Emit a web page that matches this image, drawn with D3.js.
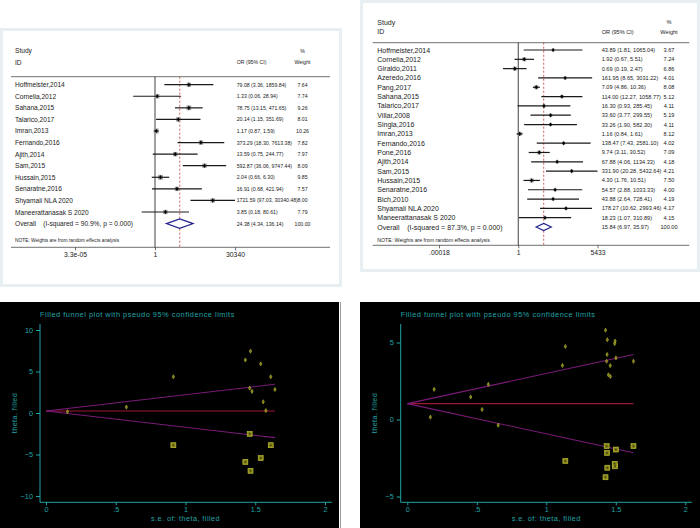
<!DOCTYPE html>
<html><head><meta charset="utf-8">
<script src="https://cdn.jsdelivr.net/npm/d3@7"></script>
<style>body{margin:0;background:#fff}svg{display:block;font-family:"Liberation Sans",Arial,sans-serif}</style>
</head><body><svg id="c" width="700" height="528"></svg>
<script>
// ---------- Forest plot A (left) ----------
const namesA = ["Hoffmeister,2014","Cornelia,2012","Sahana,2015","Talarico,2017","Imran,2013","Fernando,2016","Ajith,2014","Sam,2015","Hussain,2015","Senaratne,2016","Shyamali NLA 2020","Maneerattanasak S 2020"];
const orA = [79.08,1.33,78.75,20.14,1.17,373.29,13.59,592.87,2.04,16.91,1721.59,3.85];
const loA = [3.36,0.06,13.15,1.15,0.87,18.30,0.75,36.06,0.66,0.68,97.03,0.18];
const hiA = [1859.84,28.94,471.65,351.69,1.59,7613.38,244.77,9747.44,6.30,421.94,30340.48,80.61];
const wtA = [7.64,7.74,9.26,8.01,10.26,7.82,7.97,8.09,9.85,7.57,8.00,7.79];
const overallA = [24.38,4.34,136.14];
const overallLabelA = "Overall    (I-squared = 90.9%, p = 0.000)";
const tickValsA = [3.2959e-05, 1, 30340.48];
const tickLabelsA = ["3.3e-05","1","30340"];

// ---------- Forest plot B (right) ----------
const namesB = ["Hoffmeister,2014","Cornelia,2012","Giraldo,2011","Azeredo,2016","Pang,2017","Sahana,2015","Talarico,2017","Villar,2008","Singla,2016","Imran,2013","Fernando,2016","Pone,2016","Ajith,2014","Sam,2015","Hussain,2015","Senaratne,2016","Bich,2010","Shyamali NLA 2020","Maneerattanasak S 2020"];
const orB = [43.89,1.92,0.69,161.95,7.09,114.00,16.30,33.60,33.26,1.16,138.47,9.74,67.88,331.90,4.30,54.57,43.88,178.27,18.23];
const loB = [1.81,0.67,0.19,8.65,4.86,12.27,0.93,3.77,1.90,0.84,7.43,3.11,4.06,20.28,1.76,2.88,2.64,10.62,1.07];
const hiB = [1065.04,5.51,2.47,3031.22,10.36,1058.77,285.45,299.55,582.30,1.61,2581.10,30.52,1134.33,5432.64,10.51,1033.33,728.41,2993.46,310.89];
const wtB = [3.67,7.24,6.86,4.01,8.08,5.12,4.11,5.19,4.11,8.12,4.02,7.09,4.18,4.21,7.50,4.00,4.19,4.17,4.15];
const overallB = [15.84,6.97,35.97];
const overallLabelB = "Overall    (I-squared = 87.3%, p = 0.000)";
const tickValsB = [1.8407e-4, 1, 5432.64];
const tickLabelsB = [".00018","1","5433"];

// ---------- Funnel plot L ----------
const seStudiesL = [1.611,1.576,0.913,1.460,0.154,1.539,1.477,1.429,0.576,1.641,1.466,1.557];
const thetaStudiesL = [4.37,0.29,4.37,3.00,0.16,5.92,2.61,6.39,0.71,2.83,7.45,1.35];
const seFilledL = [0.913,1.460,1.429,1.466,1.539,1.611];
const thetaFilledL = [-3.88,-2.51,-5.90,-6.96,-5.43,-3.88];
const thetaCenterL = 0.245, seMaxL = 1.641;
const yTicksL = [-10,-5,0,5,10];

// ---------- Funnel plot R ----------
const seStudiesR = [1.627,0.538,0.654,1.495,0.193,1.137,1.461,1.116,1.460,0.166,1.492,0.583,1.437,1.426,0.456,1.501,1.434,1.439,1.447];
const thetaStudiesR = [3.78,0.65,-0.37,5.09,1.96,4.74,2.79,3.51,3.50,0.15,4.93,2.28,4.22,5.80,1.46,4.00,3.78,5.18,2.90];
const seFilledR = [1.137,1.426,1.439,1.495,1.492,1.501,1.437,1.627,1.434];
const thetaFilledR = [-2.69,-3.75,-3.13,-3.04,-2.88,-1.95,-2.17,-1.73,-1.73];
const thetaCenterR = 1.03, seMaxR = 1.627;
const yTicksR = [-5,0,5];
const xTicksF = [0,0.5,1,1.5,2];
const xTickLabelsF = ["0",".5","1","1.5","2"];
const funnelTitle = "Filled funnel plot with pseudo 95% confidence limits";

const svg = d3.select("#c");
const f2 = d3.format(".2f");

function frame(x,y,w,h){
  svg.append("rect").attr("x",x).attr("y",y).attr("width",w).attr("height",h).attr("fill","#e7eff2");
  svg.append("rect").attr("x",x+3).attr("y",y+3).attr("width",w-6).attr("height",h-6).attr("fill","#fff");
}
frame(0,28,342,259);
frame(360,0,340,272);

function forest(c){
  const n = c.names.length;
  const x = d3.scaleLog().domain([c.ticks[0], c.ticks[2]]).range([c.xa, c.xb]);
  const y = d3.scaleLinear().domain([0, n-1]).range([c.y0, c.y1]);
  const g = svg.append("g").style("dominant-baseline","central");
  const t = (s,xx,yy,fs,anchor)=>g.append("text").attr("x",xx).attr("y",yy).attr("font-size",fs)
      .attr("text-anchor",anchor||"start").attr("fill","#222").style("white-space","pre").text(s);
  t("Study", c.nameX, c.hy1, c.fsName);
  t("ID", c.nameX, c.hy2, c.fsName);
  t("OR (95% CI)", c.orX, c.hy2, c.fsOr);
  t("%", c.wX, c.hy1, c.fsOr, "middle");
  t("Weight", c.wX, c.hy2, c.fsOr, "middle");
  g.append("line").attr("x1",c.lx0).attr("x2",c.lx1).attr("y1",c.hline).attr("y2",c.hline).attr("stroke","#333").attr("stroke-width",0.7);
  g.append("line").attr("x1",x(1)).attr("x2",x(1)).attr("y1",c.hline).attr("y2",c.axisY).attr("stroke","#111").attr("stroke-width",0.8);
  g.append("line").attr("x1",x(c.ov[0])).attr("x2",x(c.ov[0])).attr("y1",c.hline).attr("y2",c.axisY)
    .attr("stroke","#c0392b").attr("stroke-width",0.8).attr("stroke-dasharray","2,2");
  const idx = d3.range(n);
  g.selectAll(".box").data(idx).join("rect")
    .attr("x",i=>x(c.or[i]) - c.k*Math.sqrt(c.wt[i])/2).attr("y",i=>y(i) - c.k*Math.sqrt(c.wt[i])/2)
    .attr("width",i=>c.k*Math.sqrt(c.wt[i])).attr("height",i=>c.k*Math.sqrt(c.wt[i])).attr("fill","#a0a0a0");
  g.selectAll(".ci").data(idx).join("line")
    .attr("x1",i=>x(c.lo[i])).attr("x2",i=>x(c.hi[i])).attr("y1",i=>y(i)).attr("y2",i=>y(i))
    .attr("stroke","#1a1a1a").attr("stroke-width",1.2);
  g.selectAll(".pt").data(idx).join("path")
    .attr("transform",i=>`translate(${x(c.or[i])},${y(i)})`)
    .attr("d",d3.symbol(d3.symbolDiamond,6)).attr("fill","#000");
  idx.forEach(i=>{
    t(c.names[i], c.nameX, y(i), c.fsName);
    t(`${f2(c.or[i])} (${f2(c.lo[i])}, ${f2(c.hi[i])})`, c.orX, y(i), c.fsOr);
    t(f2(c.wt[i]), c.wX, y(i), c.fsOr, "middle");
  });
  const yo = y(n);
  const xm = x(c.ov[0]), xl = x(c.ov[1]), xr = x(c.ov[2]);
  g.append("path").attr("d",`M${xl},${yo}L${xm},${yo-c.dh}L${xr},${yo}L${xm},${yo+c.dh}Z`)
    .attr("fill","#fff").attr("stroke","#22228a").attr("stroke-width",1.2);
  t(c.ovLabel, c.nameX, yo, c.fsName);
  t(`${f2(c.ov[0])} (${f2(c.ov[1])}, ${f2(c.ov[2])})`, c.orX, yo, c.fsOr);
  t("100.00", c.wX, yo, c.fsOr, "middle");
  t("NOTE: Weights are from random effects analysis", c.nameX, c.noteY, c.fsNote);
  g.append("line").attr("x1",c.lx0).attr("x2",c.lx1).attr("y1",c.axisY).attr("y2",c.axisY).attr("stroke","#333").attr("stroke-width",0.7);
  const ax = svg.append("g").attr("transform",`translate(0,${c.axisY})`)
    .call(d3.axisBottom(x).tickValues(c.ticks).tickFormat((d,i)=>c.tickLabels[i]).tickSize(3).tickPadding(2).tickSizeOuter(0));
  ax.select(".domain").remove();
  ax.selectAll("line").attr("stroke","#333").attr("stroke-width",0.7);
  ax.selectAll("text").attr("font-size",c.fsTick).attr("fill","#222").attr("font-family","Liberation Sans, Arial, sans-serif");
}

forest({names:namesA, or:orA, lo:loA, hi:hiA, wt:wtA, ov:overallA, ovLabel:overallLabelA, ticks:tickValsA, tickLabels:tickLabelsA,
  xa:75, xb:235, y0:84.7, y1:212, nameX:15, hy1:50.7, hy2:62.3, hline:76.7, lx0:11, lx1:330, axisY:247.3, noteY:240,
  orX:236.7, wX:302.5, fsName:6.6, fsOr:5.2, fsNote:4.8, fsTick:6.8, k:1.55, dh:4.7});
forest({names:namesB, or:orB, lo:loB, hi:hiB, wt:wtB, ov:overallB, ovLabel:overallLabelB, ticks:tickValsB, tickLabels:tickLabelsB,
  xa:439, xb:597.5, y0:50, y1:217.7, nameX:377.3, hy1:22.3, hy2:31.7, hline:42.7, lx0:372.7, lx1:689.3, axisY:245.3, noteY:239.5,
  orX:601.7, wX:669, fsName:7, fsOr:5.6, fsNote:5.2, fsTick:6.8, k:1.45, dh:3.6});

// ---------- Funnel plots ----------
const teal = "#22a3a6";
function funnel(c){
  svg.append("rect").attr("x",c.bx).attr("y",302).attr("width",c.bw).attr("height",226).attr("fill","#000");
  const x = d3.scaleLinear().domain([0,2]).range([c.x0, c.x2]);
  const y = d3.scaleLinear().domain(c.yDom).range(c.yRange);
  const g = svg.append("g");
  g.append("line").attr("x1",c.ax).attr("x2",c.ax).attr("y1",324).attr("y2",502.3).attr("stroke",teal).attr("stroke-width",1);
  g.append("line").attr("x1",c.ax).attr("x2",c.axEnd).attr("y1",502.3).attr("y2",502.3).attr("stroke",teal).attr("stroke-width",1);
  const ya = g.append("g").attr("transform",`translate(${c.ax},0)`)
    .call(d3.axisLeft(y).tickValues(c.yTicks).tickFormat(d3.format("d")).tickSize(4).tickPadding(3).tickSizeOuter(0));
  const xa = g.append("g").attr("transform",`translate(0,502.3)`)
    .call(d3.axisBottom(x).tickValues(xTicksF).tickFormat((d,i)=>xTickLabelsF[i]).tickSize(3).tickPadding(1.2).tickSizeOuter(0));
  [ya,xa].forEach(a=>{
    a.select(".domain").remove();
    a.selectAll("line").attr("stroke",teal);
    a.selectAll("text").attr("fill",teal).attr("font-size",7.3).attr("font-family","Liberation Sans, Arial, sans-serif");
  });
  g.append("text").attr("x",c.ax).attr("y",314.3).attr("dominant-baseline","central").attr("font-size",7.4)
    .attr("letter-spacing",0.5).attr("fill",teal).text(funnelTitle);
  g.append("text").attr("x",(x(0)+x(2))/2).attr("y",518.3).attr("dominant-baseline","central").attr("text-anchor","middle")
    .attr("font-size",7.3).attr("letter-spacing",0.45).attr("fill",teal).text("s.e. of: theta, filled");
  g.append("text").attr("transform",`translate(${c.ytx},413) rotate(-90)`).attr("dominant-baseline","central").attr("text-anchor","middle")
    .attr("font-size",7.3).attr("letter-spacing",0.4).attr("fill",teal).text("theta, filled");
  const lines = [[c.tc, c.tc, "#9a1830"], [c.tc, c.tc + 1.96*c.seMax, "#7a1a78"], [c.tc, c.tc - 1.96*c.seMax, "#7a1a78"]];
  lines.forEach(l=>g.append("line").attr("x1",x(0)).attr("x2",x(c.seMax)).attr("y1",y(l[0])).attr("y2",y(l[1]))
    .attr("stroke",l[2]).attr("stroke-width",1.1));
  const fi = d3.range(c.seF.length);
  g.selectAll(".sq").data(fi).join("rect")
    .attr("x",i=>x(c.seF[i])-2.5).attr("y",i=>y(c.thF[i])-2.5).attr("width",5).attr("height",5)
    .attr("fill","#8a8a1c").attr("stroke","#c4c43a").attr("stroke-width",0.6);
  g.selectAll(".sqd").data(fi).join("circle")
    .attr("cx",i=>x(c.seF[i])).attr("cy",i=>y(c.thF[i])).attr("r",1).attr("fill","#44440c");
  const si = d3.range(c.seS.length);
  g.selectAll(".st").data(si).join("path")
    .attr("transform",i=>`translate(${x(c.seS[i])},${y(c.thS[i])})`)
    .attr("d",d3.symbol(d3.symbolDiamond,5)).attr("fill","#7a7a18").attr("stroke","#c8c83a").attr("stroke-width",0.5);
}
funnel({bx:0, bw:339, x0:46, x2:325, ax:40, axEnd:331.7, ytx:14, yDom:[-10,10], yRange:[496,330], yTicks:yTicksL,
  seS:seStudiesL, thS:thetaStudiesL, seF:seFilledL, thF:thetaFilledL, tc:thetaCenterL, seMax:seMaxL});
funnel({bx:360, bw:340, x0:407.3, x2:685.3, ax:400.7, axEnd:691.7, ytx:374, yDom:[-5,5], yRange:[496.5,342.5], yTicks:yTicksR,
  seS:seStudiesR, thS:thetaStudiesR, seF:seFilledR, thF:thetaFilledR, tc:thetaCenterR, seMax:seMaxR});
svg.append("line").attr("x1",340.5).attr("x2",340.5).attr("y1",302).attr("y2",528).attr("stroke","#999").attr("stroke-width",1);
</script></body></html>
